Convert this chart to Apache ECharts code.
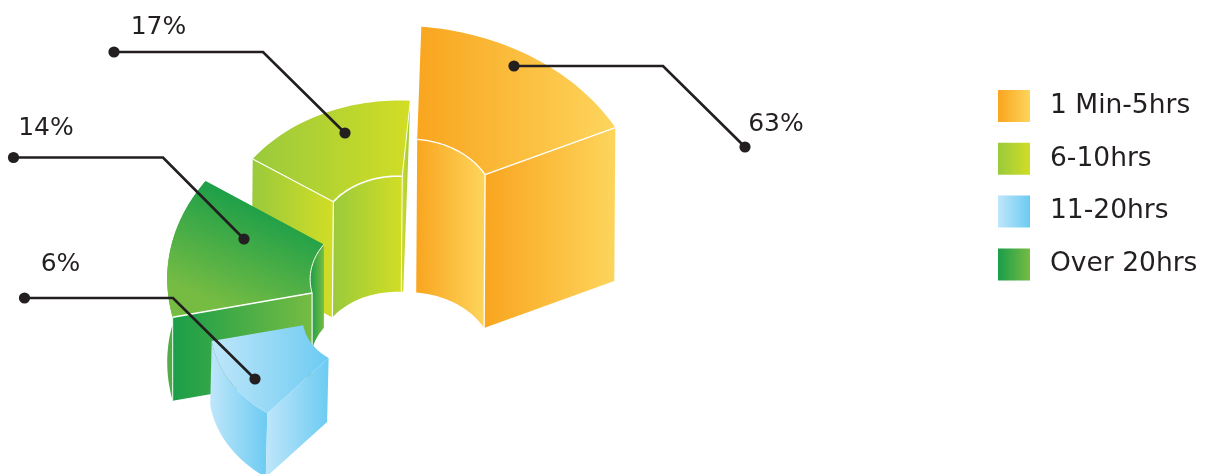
<!DOCTYPE html>
<html>
<head>
<meta charset="utf-8">
<style>html,body{margin:0;padding:0;background:#fff}#chart{width:1210px;height:474px}</style>
<script src="https://cdn.jsdelivr.net/npm/echarts@6/dist/echarts.min.js"></script>
</head>
<body>
<div id="chart"></div>
<script>
// Share of respondents per time band
const categories = ['1 Min-5hrs', '6-10hrs', 'Over 20hrs', '11-20hrs'];
const shares = [63, 17, 14, 6];
const legendOrder = ['1 Min-5hrs', '6-10hrs', '11-20hrs', 'Over 20hrs'];

const INK = '#231f20';
const FONT = '"DejaVu Sans", sans-serif';

const ramps = {
  orange: ['#f9a51f', '#fdd55c'],
  lime: ['#99ca3c', '#d2dd25'],
  green: ['#1a9e49', '#76bc43'],
  greenWall: ['#56ad47', '#1a9e49'],
  sky: ['#bfe6fa', '#6ccbf2']
};
const across = ramp => new echarts.graphic.LinearGradient(0, 0, 1, 0, [
  { offset: 0, color: ramp[0] }, { offset: 1, color: ramp[1] }
]);

// Oblique wedge solids: apex, the two outer edge vectors, inner radius ratio,
// extrusion vector, and the sweep that sets how far each rim bows out.
const wedges = [
  { apex: [415, 200], u: [6.3, -173.3], v: [200.3, -72.3], inner: 0.35, drop: [-1, 153.2], sweep: 60,
    legendFill: across(ramps.orange),
    faces: [
      { kind: 'innerWall', fill: across(ramps.orange) },
      { kind: 'endRadial', fill: across(ramps.orange) },
      { kind: 'top', fill: across(ramps.orange) }
    ],
    ridges: [
      { kind: 'innerArc', width: 1.3 }, { kind: 'endTop', width: 1.3 }, { kind: 'endRise', width: 1.3 }
    ] },
  { apex: [396, 235], u: [14.3, -134.3], v: [-143.3, -76], inner: 0.437, drop: [-1, 115.6], sweep: 59,
    legendFill: across(ramps.lime),
    faces: [
      { kind: 'sliver', fill: across(['#d2dd25', '#99ca3c']) },
      { kind: 'endRadial', fill: across(ramps.lime) },
      { kind: 'innerWall', fill: across(ramps.lime) },
      { kind: 'top', fill: across(ramps.lime) }
    ],
    ridges: [
      { kind: 'innerArc', width: 1.6 }, { kind: 'endTop', width: 1.1 }, { kind: 'endRise', width: 1.2 },
      { kind: 'startTop', width: 0.9 }, { kind: 'startRise', width: 0.9 }
    ] },
  { apex: [389.5, 279.6], u: [-183.8, -98.6], v: [-216.8, 37.7], inner: 0.357, drop: [0, 83.4], sweep: 47,
    legendFill: across(ramps.green),
    faces: [
      { kind: 'outerWall', fill: across(ramps.greenWall) },
      { kind: 'endRadial', fill: across(ramps.green) },
      { kind: 'innerWall', fill: across(ramps.green) },
      { kind: 'top', fill: new echarts.graphic.LinearGradient(0.7, 0.2, 0.42, 0.95, [
        { offset: 0, color: '#1a9e49' }, { offset: 1, color: '#76bc43' }
      ]) }
    ],
    ridges: [
      { kind: 'innerArc', width: 1 }, { kind: 'endTop', width: 1.5 }, { kind: 'endRise', width: 1.1 },
      { kind: 'outerRise', width: 0.9 }
    ] },
  { apex: [379.8, 311.9], u: [-168.1, 29.1], v: [-112.5, 101.4], inner: 0.455, drop: [-1.5, 64], sweep: 41,
    legendFill: across(ramps.sky),
    faces: [
      { kind: 'outerWall', fill: across(ramps.sky) },
      { kind: 'endRadial', fill: across(ramps.sky) },
      { kind: 'top', fill: across(ramps.sky) }
    ],
    ridges: [] }
];

// Leader lines run from a free end, along a shelf, down to an anchor on the wedge.
const leaders = [
  { path: [[745, 147], [663, 66], [514, 66]], label: [776, 124.5] },
  { path: [[114, 52], [263, 52], [345, 133]], label: [158.5, 27] },
  { path: [[13.5, 157.5], [163, 157.5], [244, 239]], label: [46, 128] },
  { path: [[24.5, 298], [173, 298], [255, 379]], label: [60.5, 264.5] }
];

function rim(w, t, r, h) {
  const phi = w.sweep * Math.PI / 180;
  const a = Math.sin((1 - t) * phi) / Math.sin(phi);
  const b = Math.sin(t * phi) / Math.sin(phi);
  return [
    w.apex[0] + r * (a * w.u[0] + b * w.v[0]) + h * w.drop[0],
    w.apex[1] + r * (a * w.u[1] + b * w.v[1]) + h * w.drop[1]
  ];
}
function arc(w, r, h, reverse) {
  const pts = [];
  for (let i = 0; i <= 36; i++) pts.push(rim(w, (reverse ? 36 - i : i) / 36, r, h));
  return pts;
}
function facePoints(w, kind) {
  switch (kind) {
    case 'top': return arc(w, 1, 0).concat(arc(w, w.inner, 0, true));
    case 'innerWall': return arc(w, w.inner, 0).concat(arc(w, w.inner, 1, true));
    case 'outerWall': return arc(w, 1, 0).concat(arc(w, 1, 1, true));
    case 'endRadial': return [rim(w, 1, 1, 0), rim(w, 1, w.inner, 0), rim(w, 1, w.inner, 1), rim(w, 1, 1, 1)];
    case 'sliver': {
      const foot = rim(w, 0, w.inner, 1);
      return [rim(w, 0, 1, 0), rim(w, 0, w.inner, 0), foot, [foot[0] + 2, foot[1] - 0.6]];
    }
  }
}
function ridgePoints(w, kind) {
  switch (kind) {
    case 'innerArc': return arc(w, w.inner, 0);
    case 'endTop': return [rim(w, 1, w.inner, 0), rim(w, 1, 1, 0)];
    case 'endRise': return [rim(w, 1, w.inner, 0), rim(w, 1, w.inner, 1)];
    case 'startTop': return [rim(w, 0, w.inner, 0), rim(w, 0, 1, 0)];
    case 'startRise': return [rim(w, 0, w.inner, 0), rim(w, 0, w.inner, 1)];
    case 'outerRise': return [rim(w, 1, 1, 0), rim(w, 1, 1, 1)];
  }
}

function renderWedge(wedgeIndex) {
  const w = wedges[wedgeIndex];
  return function (params, api) {
    const place = pts => pts.map(p => api.coord(p));
    const children = [];
    w.faces.forEach(f => children.push({
      type: 'polygon',
      shape: { points: place(facePoints(w, f.kind)) },
      style: { fill: f.fill }
    }));
    w.ridges.forEach(r => children.push({
      type: 'polyline',
      shape: { points: place(ridgePoints(w, r.kind)) },
      style: { stroke: '#ffffff', lineWidth: r.width, fill: null }
    }));
    return { type: 'group', children };
  };
}

function renderLeader(params, api) {
  const lead = leaders[params.dataIndex];
  const pts = lead.path.map(p => api.coord(p));
  const free = pts[0];
  const anchor = pts[pts.length - 1];
  const at = api.coord(lead.label);
  return {
    type: 'group',
    children: [
      { type: 'polyline', shape: { points: pts }, style: { stroke: INK, lineWidth: 2.7, fill: null } },
      { type: 'circle', shape: { cx: free[0], cy: free[1], r: 5.6 }, style: { fill: INK } },
      { type: 'circle', shape: { cx: anchor[0], cy: anchor[1], r: 5.6 }, style: { fill: INK } },
      { type: 'text', x: at[0], y: at[1], style: {
        text: api.value(0) + '%', fill: INK, font: '25px ' + FONT,
        align: 'center', verticalAlign: 'middle'
      } }
    ]
  };
}

const chart = echarts.init(document.getElementById('chart'), null, { renderer: 'canvas' });
chart.setOption({
  animation: false,
  backgroundColor: '#ffffff',
  tooltip: { show: false },
  grid: { left: 0, right: 0, top: 0, bottom: 0 },
  xAxis: { type: 'value', min: 0, max: 1210, show: false },
  yAxis: { type: 'value', min: 0, max: 474, inverse: true, show: false },
  legend: {
    data: legendOrder,
    orient: 'vertical',
    left: 998,
    top: 90,
    padding: 0,
    itemWidth: 32,
    itemHeight: 32,
    itemGap: 20.8,
    selectedMode: false,
    icon: 'rect',
    textStyle: { color: INK, fontSize: 26.5, fontFamily: FONT, padding: [0, 0, 0, 15] }
  },
  series: categories.map((name, i) => ({
    type: 'custom',
    name,
    coordinateSystem: 'cartesian2d',
    silent: true,
    z: 2 + i,
    itemStyle: { color: wedges[i].legendFill },
    encode: { x: 0, y: 1 },
    data: [[shares[i], 0]],
    renderItem: renderWedge(i)
  })).concat([{
    type: 'custom',
    name: 'leaders',
    coordinateSystem: 'cartesian2d',
    silent: true,
    z: 10,
    encode: { x: 0, y: 1 },
    data: shares.map(v => [v, 0]),
    renderItem: renderLeader
  }])
});
</script>
</body>
</html>
